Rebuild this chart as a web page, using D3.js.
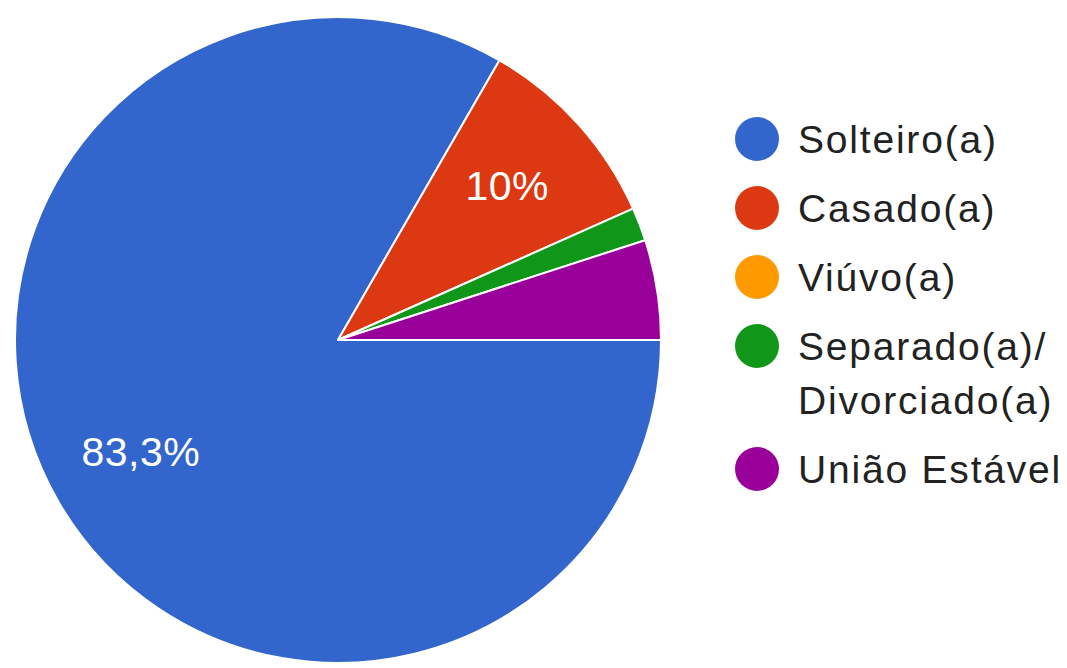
<!DOCTYPE html>
<html>
<head>
<meta charset="utf-8">
<script src="https://cdn.jsdelivr.net/npm/d3@7"></script>
<style>
  html, body { margin: 0; padding: 0; background: #fff; }
  svg { display: block; font-family: "Liberation Sans", Arial, sans-serif; }
</style>
</head>
<body>
<svg id="chart" width="1067" height="668"></svg>
<script>
// Responses per category (60 answers in total)
const categories = ['Solteiro(a)', 'Casado(a)', 'Viúvo(a)', 'Separado(a)/\nDivorciado(a)', 'União Estável'];
const counts = [50, 6, 0, 1, 3];
const colors = ['#3366cc', '#dc3912', '#ff9900', '#109618', '#990099'];
// slice labels as shown on the chart (small slices get none)
const sliceLabels = ['83,3%', '10%', '', '', ''];

const width = 1067, height = 668;
const cx = 338, cy = 340, radius = 323;

const svg = d3.select('#chart');

const data = categories.map((name, i) => ({ name, value: counts[i], color: colors[i], label: sliceLabels[i] }));

// Google-style pie: starts at 3 o'clock, runs clockwise, keeps input order
const pie = d3.pie()
    .value(d => d.value)
    .sort(null)
    .startAngle(Math.PI / 2)
    .endAngle(Math.PI / 2 + 2 * Math.PI);

const arc = d3.arc().innerRadius(0).outerRadius(radius);
const labelArc = d3.arc().innerRadius(radius * 0.705).outerRadius(radius * 0.705);

const g = svg.append('g').attr('transform', `translate(${cx},${cy})`);

const arcs = pie(data).filter(d => d.value > 0);

g.selectAll('path')
    .data(arcs)
    .join('path')
    .attr('d', arc)
    .attr('fill', d => d.data.color)
    .attr('stroke', '#fff')
    .attr('stroke-width', 2)
    .attr('stroke-linejoin', 'round');

g.selectAll('text.slice')
    .data(arcs.filter(d => d.data.label))
    .join('text')
    .attr('class', 'slice')
    .attr('transform', d => `translate(${labelArc.centroid(d)})`)
    .attr('text-anchor', 'middle')
    .attr('dy', '0.3em')
    .attr('fill', '#fff')
    .attr('font-size', 41)
    .attr('letter-spacing', 0.5)
    .text(d => d.data.label);

// Legend
const legendX = 757, legendTop = 139, rowGap = 69, lineGap = 54;
const legend = svg.append('g');
let y = legendTop;
data.forEach(d => {
    const lines = d.name.split('\n');
    const row = legend.append('g').attr('transform', `translate(${legendX},${y})`);
    row.append('circle').attr('r', 22).attr('fill', d.color);
    const text = row.append('text')
        .attr('x', 41)
        .attr('fill', '#222')
        .attr('font-size', 39)
        .attr('letter-spacing', 1.8);
    lines.forEach((line, i) => {
        text.append('tspan')
            .attr('x', 41)
            .attr('y', i * lineGap)
            .attr('dy', '0.35em')
            .text(line);
    });
    y += rowGap + (lines.length - 1) * lineGap;
});
</script>
</body>
</html>
